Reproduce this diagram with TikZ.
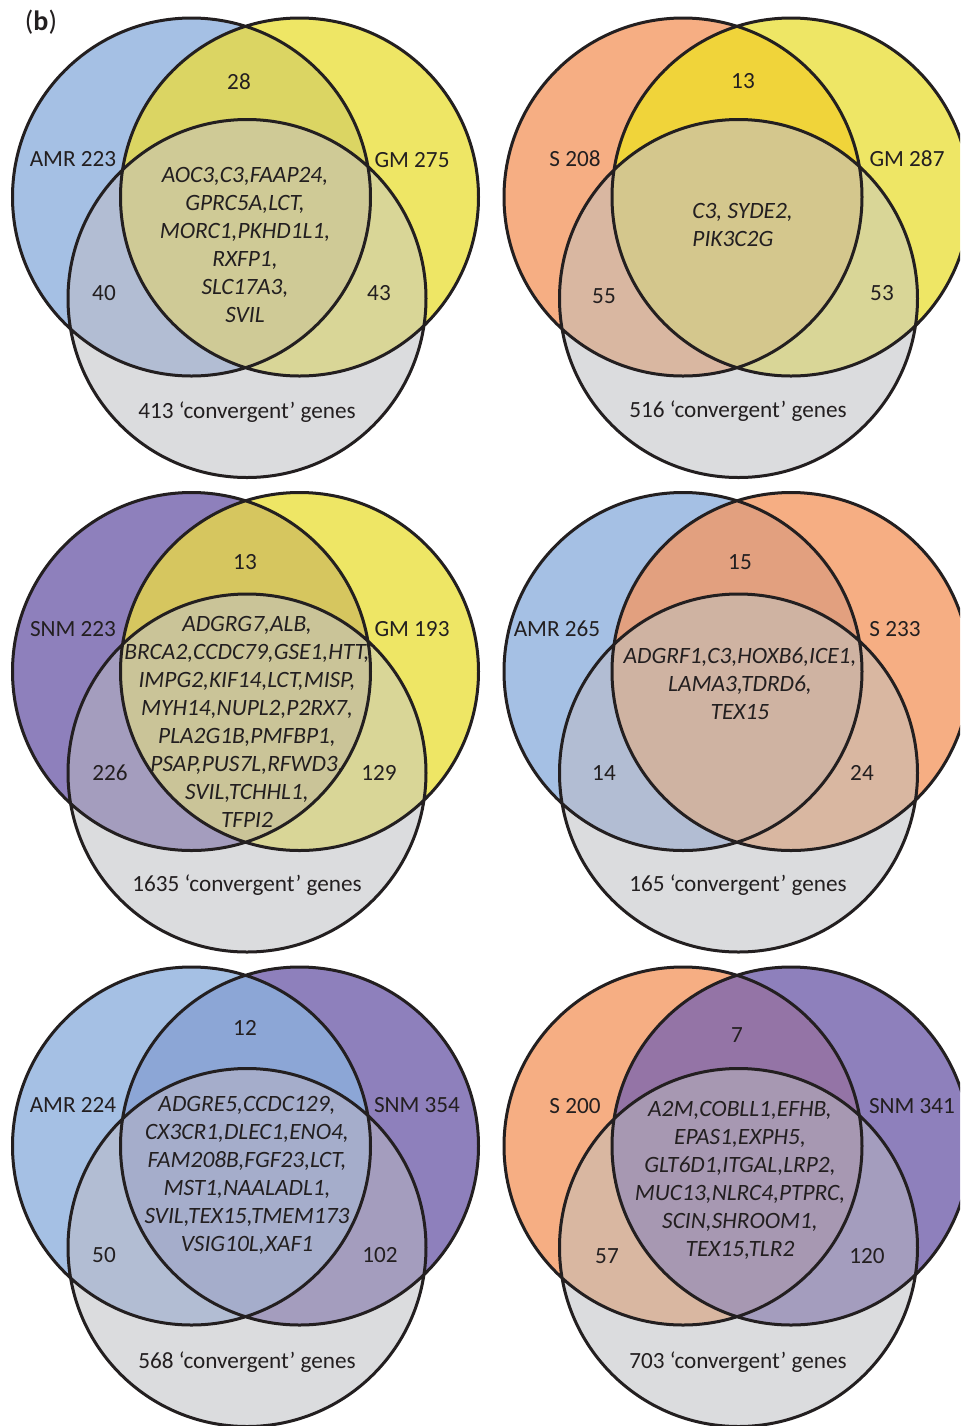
\documentclass[tikz,border=0pt]{standalone}
\usepackage{fontspec}
\setmainfont{Carlito}

\definecolor{ink}{HTML}{231F20}
\definecolor{amrblue}{HTML}{A5C0E4}
\definecolor{gmyellow}{HTML}{EEE665}
\definecolor{sorange}{HTML}{F6AE83}
\definecolor{snmpurple}{HTML}{8E80BC}
\definecolor{convgrey}{HTML}{DBDCDE}

% #1,#2 centre of left circle; #3 left, #4 right (names);
% hex for #5 left/right, #6 left/bottom, #7 right/bottom, #8 all three
\newcommand{\venndiagram}[8]{%
  \definecolor{lrfill}{HTML}{#5}%
  \definecolor{lbfill}{HTML}{#6}%
  \definecolor{rbfill}{HTML}{#7}%
  \definecolor{corefill}{HTML}{#8}%
  \begin{scope}[shift={(#1,#2)}]
    \fill[#3] (0,0) circle (179);
    \fill[#4] (108,0) circle (179);
    \fill[convgrey] (55.5,101.5) circle (179);
    \begin{scope}
      \clip (0,0) circle (179);
      \fill[lrfill] (108,0) circle (179);
      \fill[lbfill] (55.5,101.5) circle (179);
    \end{scope}
    \begin{scope}
      \clip (108,0) circle (179);
      \fill[rbfill] (55.5,101.5) circle (179);
      \clip (0,0) circle (179);
      \fill[corefill] (55.5,101.5) circle (179);
    \end{scope}
    \draw[ring] (0,0) circle (179) (108,0) circle (179) (55.5,101.5) circle (179);
  \end{scope}}

\begin{document}
\begin{tikzpicture}[
  x=0.5pt, y=-0.5pt,
  lab/.style={font=\fontsize{11.6}{14}\selectfont, text=ink},
  genes/.style={font=\fontsize{11.7}{14}\selectfont\itshape, text=ink, align=center},
  ring/.style={draw=ink, line width=1.5pt}
]
  \useasboundingbox (0,0) rectangle (960,1426);
  \clip (0,0) rectangle (960,1426);
  \fill[white] (0,0) rectangle (960,1426);

  \venndiagram{191.5}{197}{amrblue}{gmyellow}{DBD563}{B2BDD3}{D9D697}{CFCA96}
  \venndiagram{683}{197}{sorange}{gmyellow}{F0D43A}{D9B7A1}{D9D697}{D4C78D}
  \venndiagram{191.5}{671.5}{snmpurple}{gmyellow}{D6C65F}{A49DBE}{D9D697}{CAC498}
  \venndiagram{683}{671.5}{amrblue}{sorange}{E2A07F}{B2BDD3}{D9B7A1}{CFB3A2}
  \venndiagram{191.5}{1146}{amrblue}{snmpurple}{8CA6D6}{B2BDD3}{A49DBE}{A5ADCB}
  \venndiagram{683}{1146}{sorange}{snmpurple}{9474A6}{D9B7A1}{A49DBE}{A798B2}

  \node[lab, font=\fontsize{14}{16}\selectfont] (panel) at (41,22) {(\textbf{b})};

  \node[lab] (amr1) at (73,159) {AMR 223};
  \node[lab] (gm1) at (412,160) {GM 275};
  \node[lab] (lr1) at (239,82) {28};
  \node[lab] (lb1) at (104,293) {40};
  \node[lab] (rb1) at (379,293) {43};
  \node[lab] (conv1) at (247,412) {413 ‘convergent’ genes};
  \node[genes] (core1) at (245,245) {AOC3,C3,FAAP24,\\GPRC5A,LCT,\\MORC1,PKHD1L1,\\RXFP1,\\SLC17A3,\\SVIL};

  \node[lab] (s2) at (575,159) {S 208};
  \node[lab] (gm2) at (907,159) {GM 287};
  \node[lab] (lr2) at (743,81) {13};
  \node[lab] (lb2) at (604,296) {55};
  \node[lab] (rb2) at (882,293) {53};
  \node[lab] (conv2) at (738,411) {516 ‘convergent’ genes};
  \node[genes, align=left, anchor=west, inner sep=0pt] (core2) at (692,225) {C3, SYDE2,\\PIK3C2G};

  \node[lab] (snm3) at (73,629) {SNM 223};
  \node[lab] (gm3) at (412,629) {GM 193};
  \node[lab] (lr3) at (245,562) {13};
  \node[lab] (lb3) at (110,773) {226};
  \node[lab] (rb3) at (379,773) {129};
  \node[lab] (conv3) at (247,885) {1635 ‘convergent’ genes};
  \node[genes] (core3) at (247,722) {ADGRG7,ALB,\\BRCA2,CCDC79,GSE1,HTT,\\IMPG2,KIF14,LCT,MISP,\\MYH14,NUPL2,P2RX7,\\PLA2G1B,PMFBP1,\\PSAP,PUS7L,RFWD3,\\SVIL,TCHHL1,\\TFPI2};

  \node[lab] (amr4) at (557,629) {AMR 265};
  \node[lab] (s4) at (895,629) {S 233};
  \node[lab] (lr4) at (740,562) {15};
  \node[lab] (lb4) at (604,773) {14};
  \node[lab] (rb4) at (862,773) {24};
  \node[lab] (conv4) at (738,885) {165 ‘convergent’ genes};
  \node[genes] (core4) at (740,684) {ADGRF1,C3,HOXB6,ICE1,\\LAMA3,TDRD6,\\TEX15};

  \node[lab] (amr5) at (73,1105) {AMR 224};
  \node[lab] (snm5) at (417,1105) {SNM 354};
  \node[lab] (lr5) at (245,1028) {12};
  \node[lab] (lb5) at (104,1255) {50};
  \node[lab] (rb5) at (380,1255) {102};
  \node[lab] (conv5) at (247,1362) {568 ‘convergent’ genes};
  \node[genes] (core5) at (247,1175) {ADGRE5,CCDC129,\\CX3CR1,DLEC1,ENO4,\\FAM208B,FGF23,LCT,\\MST1,NAALADL1,\\SVIL,TEX15,TMEM173\\VSIG10L,XAF1};

  \node[lab] (s6) at (575,1106) {S 200};
  \node[lab] (snm6) at (912,1106) {SNM 341};
  \node[lab] (lr6) at (737,1035) {7};
  \node[lab] (lb6) at (607,1256) {57};
  \node[lab] (rb6) at (867,1256) {120};
  \node[lab] (conv6) at (738,1362) {703 ‘convergent’ genes};
  \node[genes] (core6) at (740,1180) {A2M,COBLL1,EFHB,\\EPAS1,EXPH5,\\GLT6D1,ITGAL,LRP2,\\MUC13,NLRC4,PTPRC,\\SCIN,SHROOM1,\\TEX15,TLR2};
\end{tikzpicture}
\end{document}
